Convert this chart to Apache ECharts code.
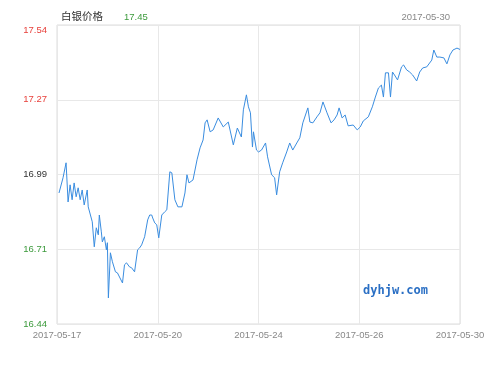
<!DOCTYPE html>
<html>
<head>
<meta charset="utf-8">
<script src="https://cdn.jsdelivr.net/npm/echarts@6/dist/echarts.min.js"></script>
<style>html,body{margin:0;padding:0;background:#fff}#c{width:500px;height:365px}</style>
</head>
<body>
<div id="c"></div>
<script>
// Chart title and values
var chartTitle = '白银价格';
var lastPrice = '17.45';
var lastDate = '2017-05-30';
var watermark = 'dyhjw.com';

// x-axis tick labels (evenly spaced session markers)
var dateLabels = ['2017-05-17', '2017-05-20', '2017-05-24', '2017-05-26', '2017-05-30'];
// y-axis tick labels and their colours (relative to reference)
var priceTicks = ['16.44', '16.71', '16.99', '17.27', '17.54'];
var priceTickStyle = ['g', 'g', 'k', 'r', 'r'];
var priceMin = 16.44, priceMax = 17.54;

// time position (0..400 across the session scale)
var timePos = [2, 6, 9, 11, 13, 15, 17, 19, 21, 23, 25, 27, 30, 31, 35, 37, 39, 41, 42, 44,
  45, 47, 49, 50, 51, 53, 55, 56, 58, 60, 61, 65, 67, 69, 72, 74, 77, 80, 82, 84,
  87, 90, 92, 94, 95, 97, 99, 101, 104, 107, 109, 112, 114, 117, 120, 124, 127, 129, 131, 135,
  139, 142, 145, 147, 149, 152, 155, 160, 165, 170, 175, 179, 183, 185, 188, 190, 192, 194, 195, 198,
  200, 203, 207, 209, 213, 216, 218, 221, 224, 228, 231, 234, 238, 241, 244, 249, 251, 254, 258, 261,
  264, 268, 272, 275, 278, 280, 283, 286, 289, 294, 298, 301, 304, 309, 313, 316, 319, 322, 324, 326,
  329, 331, 333, 335, 338, 342, 344, 347, 350, 353, 357, 360, 363, 367, 372, 374, 377, 380, 384, 387,
  390, 393, 397, 400];
// silver price
var price = [16.922, 16.978, 17.033, 16.889, 16.952, 16.897, 16.959, 16.908, 16.941, 16.897,
  16.933, 16.878, 16.933, 16.871, 16.816, 16.724, 16.794, 16.768, 16.841, 16.779,
  16.742, 16.761, 16.713, 16.739, 16.536, 16.702, 16.669, 16.676, 16.632, 16.628,
  16.621, 16.591, 16.658, 16.665, 16.650, 16.647, 16.632, 16.713, 16.720, 16.731,
  16.761, 16.823, 16.841, 16.841, 16.830, 16.812, 16.805, 16.757, 16.841, 16.853,
  16.860, 17.000, 16.996, 16.897, 16.871, 16.871, 16.922, 16.989, 16.959, 16.970,
  17.044, 17.088, 17.117, 17.180, 17.191, 17.147, 17.154, 17.198, 17.165, 17.183,
  17.099, 17.161, 17.128, 17.228, 17.283, 17.239, 17.217, 17.091, 17.147, 17.080,
  17.073, 17.080, 17.106, 17.055, 16.989, 16.978, 16.915, 17.000, 17.033, 17.073,
  17.106, 17.080, 17.106, 17.125, 17.180, 17.235, 17.183, 17.180, 17.202, 17.217,
  17.257, 17.217, 17.180, 17.191, 17.209, 17.235, 17.198, 17.209, 17.169, 17.172,
  17.154, 17.165, 17.187, 17.202, 17.239, 17.275, 17.308, 17.319, 17.275, 17.364,
  17.364, 17.275, 17.367, 17.356, 17.338, 17.386, 17.393, 17.375, 17.367, 17.356,
  17.334, 17.367, 17.382, 17.386, 17.411, 17.448, 17.422, 17.422, 17.419, 17.397,
  17.430, 17.448, 17.455, 17.450];

var seriesData = timePos.map(function (t, i) { return [t, price[i]]; });

var chart = echarts.init(document.getElementById('c'), null, {renderer: 'canvas'});
var labelFont = 'Liberation Sans, Arial, sans-serif';
chart.setOption({
  animation: false,
  backgroundColor: '#ffffff',
  title: [
    {text: chartTitle, left: 56, top: 6, textStyle: {fontSize: 10.5, fontWeight: 'normal', color: '#333', fontFamily: 'Noto Sans CJK SC'}},
    {text: lastPrice, left: 119, top: 7, textStyle: {fontSize: 9.5, fontWeight: 'normal', color: '#3c9a3c', fontFamily: labelFont}},
    {text: lastDate, right: 45, top: 7, textStyle: {fontSize: 9.5, fontWeight: 'normal', color: '#888', fontFamily: labelFont}}
  ],
  grid: {left: 57, right: 40, top: 25, bottom: 41, show: true, borderColor: '#dddddd', borderWidth: 1},
  xAxis: {
    type: 'value', min: 0, max: 400, interval: 100,
    axisLine: {show: false}, axisTick: {show: false},
    splitLine: {show: true, lineStyle: {color: '#e8e8e8', width: 1}},
    axisLabel: {
      color: '#888888', fontSize: 9.5, fontFamily: labelFont, margin: 6,
      formatter: function (v) { return dateLabels[Math.round(v / 100)] || ''; }
    }
  },
  yAxis: [
    {type: 'value', min: priceMin, max: priceMax, show: false, splitLine: {show: false}},
    {
      type: 'value', min: 0, max: 4, interval: 1, position: 'left',
      axisLine: {show: false}, axisTick: {show: false},
      splitLine: {show: true, lineStyle: {color: '#e8e8e8', width: 1}},
      axisLabel: {
        fontSize: 9.5, fontFamily: labelFont, margin: 10,
        formatter: function (v) {
          var i = Math.round(v);
          var key = priceTickStyle[i] + (i === 4 ? 't' : '');
          return '{' + key + '|' + priceTicks[i] + '}';
        },
        rich: {
          r: {color: '#e8413c', fontSize: 9.5, fontFamily: labelFont},
          rt: {color: '#e8413c', fontSize: 9.5, fontFamily: labelFont, padding: [10, 0, 0, 0]},
          k: {color: '#333333', fontSize: 9.5, fontFamily: labelFont},
          g: {color: '#3c9a3c', fontSize: 9.5, fontFamily: labelFont}
        }
      }
    }
  ],
  series: [{
    type: 'line', yAxisIndex: 0, data: seriesData, symbol: 'none', smooth: false,
    lineStyle: {color: '#3a8de0', width: 1}
  }],
  graphic: [{
    type: 'text', left: 363, top: 285,
    style: {text: watermark, fill: '#2a6fc4', font: 'bold 12px "DejaVu Sans Mono", monospace'}
  }]
});
</script>
</body>
</html>
